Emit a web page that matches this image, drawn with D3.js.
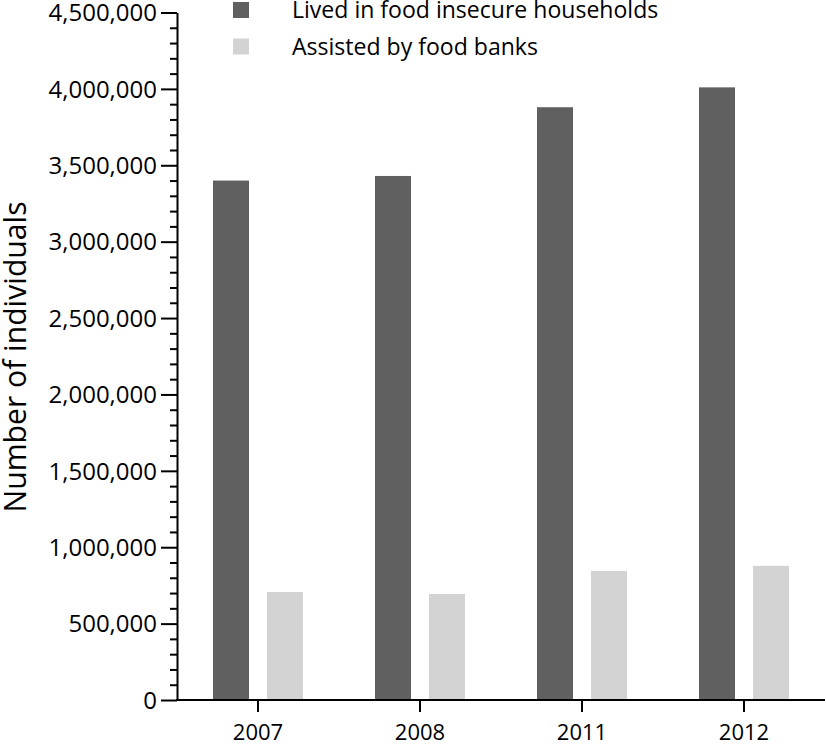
<!DOCTYPE html>
<html>
<head>
<meta charset="utf-8">
<script src="https://cdn.jsdelivr.net/npm/d3@7"></script>
<style>
  html, body { margin: 0; padding: 0; background: #fff; }
  svg { display: block; }
  text { font-family: "Open Sans", sans-serif; fill: #000; }
</style>
</head>
<body>
<svg id="chart" width="826" height="744"></svg>
<script>
// ---- Data ----
const categories = ["2007", "2008", "2011", "2012"];
const seriesNames = ["Lived in food insecure households", "Assisted by food banks"];
const foodInsecure = [3400000, 3430000, 3880000, 4010000];
const foodBanks = [707000, 694000, 845000, 878000];
const yTickValues = [0, 500000, 1000000, 1500000, 2000000, 2500000, 3000000, 3500000, 4000000, 4500000];
const yTitle = "Number of individuals";

const colors = ["#606060", "#d3d3d3"];

const data = categories.map((c, i) => ({ cat: c, values: [foodInsecure[i], foodBanks[i]] }));

const svg = d3.select("#chart");
const mLeft = 177, mRight = 825, mTop = 12.5, mBottom = 700;

const x = d3.scaleBand().domain(categories).range([mLeft, mRight]).padding(0);
const xInner = d3.scaleBand().domain([0, 1]).range([36, 126]).paddingInner(1 / 3).paddingOuter(0);
const y = d3.scaleLinear().domain([0, 4500000]).range([mBottom, mTop]);

// Bars
const g = svg.append("g");
g.selectAll("g.cat").data(data).join("g")
  .attr("class", "cat")
  .attr("transform", d => `translate(${x(d.cat)},0)`)
  .selectAll("rect").data(d => d.values.map((v, k) => ({ v, k }))).join("rect")
  .attr("x", d => xInner(d.k))
  .attr("width", xInner.bandwidth())
  .attr("y", d => y(d.v))
  .attr("height", d => y(0) - y(d.v))
  .attr("fill", d => colors[d.k]);

// Y axis minor ticks
const minorVals = d3.range(0, 4500001, 100000).filter(v => v % 500000 !== 0);
const yMinor = svg.append("g").attr("transform", `translate(${mLeft},0)`)
  .call(d3.axisLeft(y).tickValues(minorVals).tickSize(7).tickFormat(""));
yMinor.select(".domain").remove();
yMinor.selectAll("line").attr("stroke", "#000").attr("stroke-width", 2);

// Y axis major
const yAxis = svg.append("g").attr("transform", `translate(${mLeft},0)`)
  .call(d3.axisLeft(y).tickValues(yTickValues).tickSize(16).tickSizeOuter(0).tickPadding(4)
    .tickFormat(d3.format(",")));
yAxis.select(".domain").attr("stroke", "#000").attr("stroke-width", 2);
yAxis.selectAll("line").attr("stroke", "#000").attr("stroke-width", 2);
yAxis.selectAll("text").style("font-size", "24px").style("font-family", "'Open Sans', sans-serif").attr("dy", "0.34em");

// X axis
const xAxis = svg.append("g").attr("transform", `translate(0,${mBottom})`)
  .call(d3.axisBottom(x).tickSize(12).tickSizeOuter(0).tickPadding(12));
xAxis.select(".domain").attr("stroke", "#000").attr("stroke-width", 2)
  .attr("d", `M${mLeft - 1},0H${mRight}`);
xAxis.selectAll("line").attr("stroke", "#000").attr("stroke-width", 2);
xAxis.selectAll("text").style("font-size", "22px").style("font-family", "'Open Sans', sans-serif").attr("dy", "0.71em");

// Legend
const legend = svg.append("g");
const legendY = [10, 46.5];
const texts = seriesNames.map((name, k) => {
  legend.append("rect")
    .attr("x", 233).attr("y", legendY[k] - 8).attr("width", 16).attr("height", 16)
    .attr("fill", colors[k]);
  return legend.append("text")
    .attr("x", 292).attr("y", legendY[k]).attr("dy", "0.35em")
    .style("font-size", "18px").text(name);
});
const w2 = texts[1].node().getComputedTextLength();
const legendFs = (18 * 246 / w2).toFixed(2) + "px";
texts.forEach(t => t.style("font-size", legendFs));

// Y title
const title = svg.append("text")
  .attr("transform", `translate(26,357) rotate(-90)`)
  .attr("text-anchor", "middle")
  .style("font-size", "30px").text(yTitle);
const tw = title.node().getComputedTextLength();
title.style("font-size", (30 * 311 / tw).toFixed(2) + "px");
</script>
</body>
</html>
